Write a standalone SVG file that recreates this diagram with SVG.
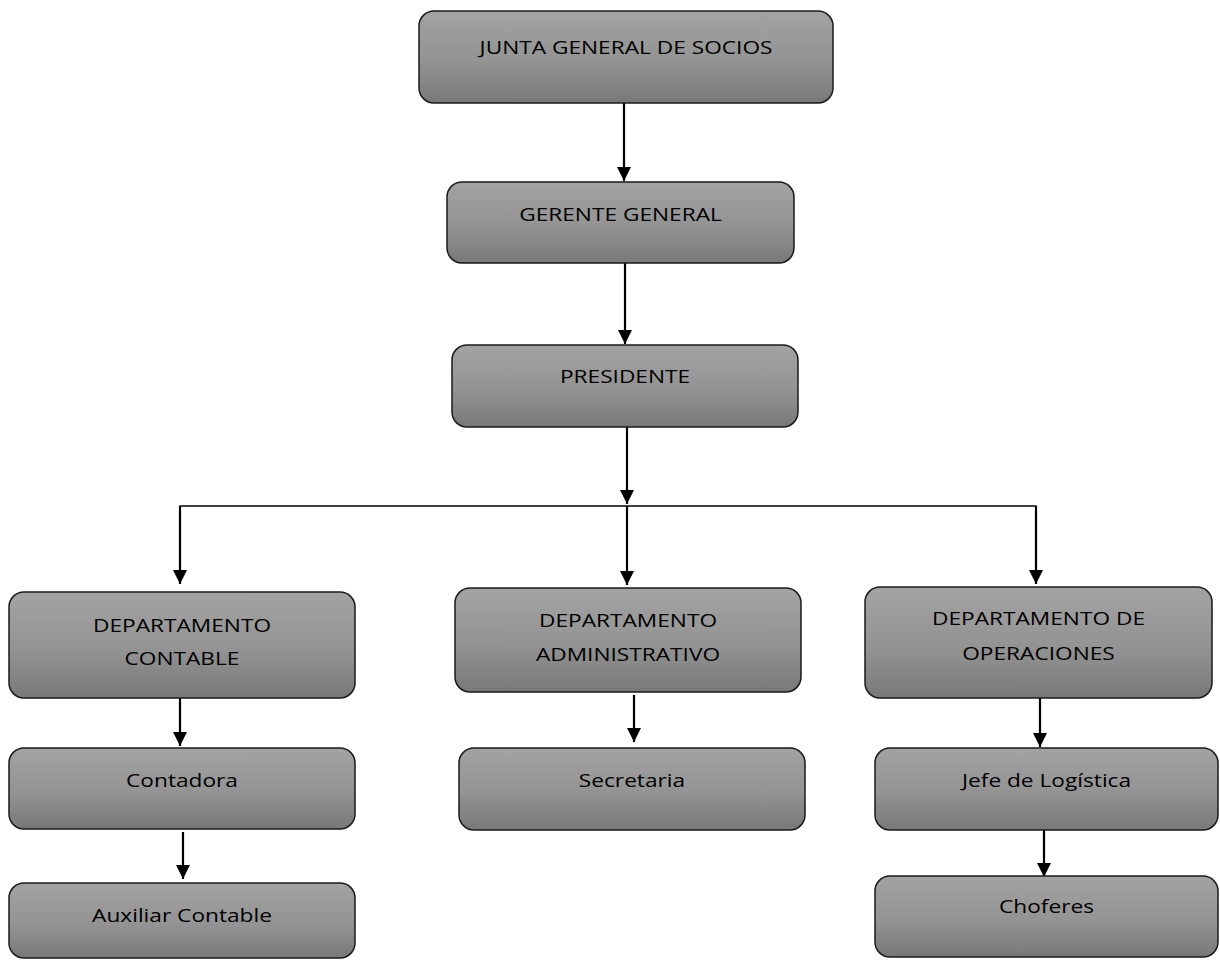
<svg xmlns="http://www.w3.org/2000/svg" width="1220" height="960" viewBox="0 0 1220 960">
<defs>
<linearGradient id="g" x1="0" y1="0" x2="0" y2="1">
<stop offset="0" stop-color="#a3a3a3"/>
<stop offset="0.55" stop-color="#939393"/>
<stop offset="1" stop-color="#787878"/>
</linearGradient>
<marker id="arr" viewBox="0 0 14 14" refX="14" refY="7" markerWidth="14" markerHeight="14" markerUnits="userSpaceOnUse" orient="auto">
<path d="M0,0 L14,7 L0,14 z" fill="#000"/>
</marker>
</defs>
<style>
.box{fill:url(#g);stroke:#1a1a1a;stroke-width:1.5}
.t{font-family:"Open Sans","Liberation Sans",sans-serif;font-size:18px;fill:#000;text-anchor:middle}
.c{stroke:#000;stroke-width:2.2;fill:none}
.h{stroke:#000;stroke-width:1.3;fill:none}
</style>
<rect width="1220" height="960" fill="#fff"/>
<g id="connectors">
<line class="c" x1="624" y1="103" x2="624" y2="181" marker-end="url(#arr)"/>
<line class="c" x1="625" y1="263" x2="625" y2="344" marker-end="url(#arr)"/>
<line class="c" x1="627" y1="427" x2="627" y2="504" marker-end="url(#arr)"/>
<polyline class="h" points="180,583 180,506 1036,506 1036,583"/>
<line class="c" x1="180" y1="506" x2="180" y2="584" marker-end="url(#arr)"/>
<line class="c" x1="627" y1="506" x2="627" y2="585" marker-end="url(#arr)"/>
<line class="c" x1="1036" y1="506" x2="1036" y2="584" marker-end="url(#arr)"/>
<line class="c" x1="180" y1="698" x2="180" y2="746" marker-end="url(#arr)"/>
<line class="c" x1="183" y1="832" x2="183" y2="879" marker-end="url(#arr)"/>
<line class="c" x1="634" y1="695" x2="634" y2="742" marker-end="url(#arr)"/>
<line class="c" x1="1040" y1="698" x2="1040" y2="747" marker-end="url(#arr)"/>
<line class="c" x1="1044" y1="830" x2="1044" y2="877" marker-end="url(#arr)"/>
</g>
<g id="junta"><rect class="box" x="419" y="11" width="414" height="92" rx="15"/><text class="t" transform="translate(626,54) scale(1.26,1)">JUNTA GENERAL DE SOCIOS</text></g>
<g id="gerente"><rect class="box" x="447" y="182" width="347" height="81" rx="15"/><text class="t" transform="translate(620.5,221) scale(1.26,1)">GERENTE GENERAL</text></g>
<g id="presidente"><rect class="box" x="452" y="345" width="346" height="82" rx="15"/><text class="t" transform="translate(625,383) scale(1.26,1)">PRESIDENTE</text></g>
<g id="dep-contable"><rect class="box" x="9" y="592" width="346" height="106" rx="15"/><text class="t" transform="translate(182,632) scale(1.26,1)">DEPARTAMENTO</text><text class="t" transform="translate(182,665) scale(1.26,1)">CONTABLE</text></g>
<g id="dep-admin"><rect class="box" x="455" y="588" width="346" height="104" rx="15"/><text class="t" transform="translate(628,627) scale(1.26,1)">DEPARTAMENTO</text><text class="t" transform="translate(628,661) scale(1.26,1)">ADMINISTRATIVO</text></g>
<g id="dep-oper"><rect class="box" x="865" y="587" width="347" height="111" rx="15"/><text class="t" transform="translate(1038.5,625) scale(1.26,1)">DEPARTAMENTO DE</text><text class="t" transform="translate(1038.5,660) scale(1.26,1)">OPERACIONES</text></g>
<g id="contadora"><rect class="box" x="9" y="748" width="346" height="81" rx="15"/><text class="t" transform="translate(182,787) scale(1.26,1)">Contadora</text></g>
<g id="secretaria"><rect class="box" x="459" y="748" width="346" height="82" rx="15"/><text class="t" transform="translate(632,787) scale(1.26,1)">Secretaria</text></g>
<g id="jefe"><rect class="box" x="875" y="748" width="343" height="82" rx="15"/><text class="t" transform="translate(1046.5,787) scale(1.26,1)">Jefe de Logística</text></g>
<g id="auxiliar"><rect class="box" x="9" y="883" width="346" height="75" rx="15"/><text class="t" transform="translate(182,922) scale(1.26,1)">Auxiliar Contable</text></g>
<g id="choferes"><rect class="box" x="875" y="876" width="343" height="81" rx="15"/><text class="t" transform="translate(1046.5,913) scale(1.26,1)">Choferes</text></g>
</svg>
